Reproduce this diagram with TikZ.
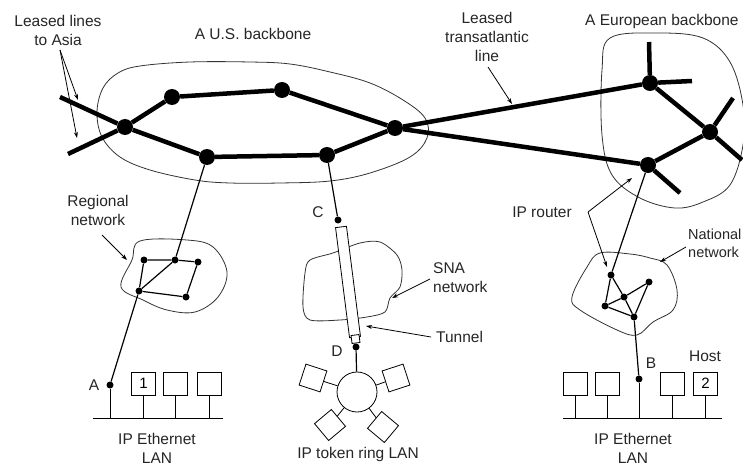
\documentclass[tikz,border=0pt]{standalone}
\usepackage{fontspec}
\setmainfont{Liberation Sans}
\usetikzlibrary{arrows.meta,calc}
\begin{document}
\begin{tikzpicture}[x=1pt,y=-1pt,
  bigdot/.style={circle,fill=black,inner sep=0pt,minimum size=16pt},
  smalldot/.style={circle,fill=black,inner sep=0pt,minimum size=7pt},
  trunk/.style={line width=4.5pt},
  link/.style={line width=1.2pt},
  blob/.style={line width=0.8pt,draw=black!80},
  lbl/.style={font=\fontsize{15.5}{19}\selectfont,text=black!85,inner sep=0pt,align=center},
  arr/.style={line width=0.8pt,-{Stealth[length=6pt,width=4pt]}},
  hostbox/.style={draw,line width=0.8pt,minimum width=24pt,minimum height=23pt,inner sep=0pt,font=\fontsize{15}{18}\selectfont},
  sqbox/.style={draw,line width=0.8pt,minimum width=22pt,minimum height=22pt,inner sep=0pt},
]
\fill[white] (0,0) rectangle (743,465);
\useasboundingbox (0,0) rectangle (743,465);

% ---------- outlines ----------
\draw[blob] plot[smooth cycle,tension=0.6] coordinates {(97,112) (103,88) (118,73) (140,66) (190,62) (250,62) (290,64) (330,72) (370,83) (403,100) (425,118) (427,138) (410,157) (370,173) (330,181) (280,183) (230,183) (195,180) (150,170) (120,157) (102,137)};
\draw[blob] plot[smooth cycle,tension=0.6] coordinates {(610,38) (657,33) (703,38) (730,62) (743,105) (743,145) (730,185) (703,202) (675,208) (640,198) (612,175) (602,135) (602,70)};
\draw[blob] plot[smooth cycle,tension=0.6] coordinates {(140,241) (187,240) (213,247) (227,272) (218,297) (195,312) (167,310) (143,300) (121,287) (132,260)};
\draw[blob] plot[smooth cycle,tension=0.5] coordinates {(333,253) (360,243) (380,242) (397,255) (402,270) (400,287) (390,298) (385,312) (367,317) (340,320) (310,320) (303,307) (305,273) (310,260)};
\draw[blob] plot[smooth cycle,tension=0.6] coordinates {(600,253) (630,254) (650,258) (667,265) (677,290) (673,310) (653,322) (637,335) (617,330) (580,310) (572,297) (587,267)};

% ---------- US backbone ----------
\node[bigdot] (L1) at (125,127) {};
\node[bigdot] (U1) at (172,97) {};
\node[bigdot] (U2) at (282,90) {};
\node[bigdot] (R) at (395,128) {};
\node[bigdot] (B1) at (207,157) {};
\node[bigdot] (B2) at (327,155) {};
\coordinate (asia1) at (60,97);
\coordinate (asia2) at (68,154);
\draw[trunk] (asia1) -- (L1) -- (B1) -- (B2) -- (R) -- (U2) -- (U1) -- (L1) -- (asia2);

% ---------- European backbone ----------
\node[bigdot] (E1) at (650,83) {};
\node[bigdot] (E2) at (710,132) {};
\node[bigdot] (E3) at (648,165) {};
\coordinate (e1u) at (649,42);
\coordinate (e1r) at (692,81);
\coordinate (e2u) at (733,98);
\coordinate (e2d) at (742,160);
\coordinate (e3d) at (680,193);
\draw[trunk] (e1u) -- (E1) -- (e1r);
\draw[trunk] (E1) -- (E2) -- (E3) -- (e3d);
\draw[trunk] (e2u) -- (E2) -- (e2d);
\draw[trunk] (R) -- (E1);
\draw[trunk] (R) -- (E3);

% ---------- regional network ----------
\node[smalldot] (r1) at (144,260) {};
\node[smalldot] (r2) at (175,260) {};
\node[smalldot] (r3) at (198,262) {};
\node[smalldot] (r4) at (139,291) {};
\node[smalldot] (r5) at (186,297) {};
\draw[link] (r1) -- (r2) -- (r3) -- (r5) -- (r4) -- (r1);
\draw[link] (r4) -- (r2);
\draw[link] (B1) -- (r2);
\node[smalldot] (A) at (110,385) {};
\draw[link] (r4) -- (A);

% ---------- left Ethernet LAN ----------
\coordinate (busL1) at (93,418);
\coordinate (busL2) at (223,418);
\draw[line width=0.8pt] (busL1) -- (busL2);
\node[hostbox] (h1) at (143.5,383.5) {1};
\node[hostbox] (h2) at (175,383.5) {};
\node[hostbox] (h3) at (209.5,383.5) {};
\draw[line width=0.8pt] (A) -- (A |- busL1);
\draw[line width=0.8pt] (h1) -- (h1 |- busL1);
\draw[line width=0.8pt] (h2) -- (h2 |- busL1);
\draw[line width=0.8pt] (h3) -- (h3 |- busL1);

% ---------- SNA tunnel ----------
\node[smalldot] (C) at (338,220) {};
\draw[link] (B2) -- (C);
\node[draw,line width=0.8pt,fill=white,minimum width=11pt,minimum height=111pt,inner sep=0pt,rotate=7.25] (tun) at (348,282) {};
\node[draw,line width=0.8pt,fill=white,minimum width=8pt,minimum height=8pt,inner sep=0pt,rotate=7.25] (tunend) at (355.5,339) {};
\node[smalldot] (D) at (356,347) {};

% ---------- token ring ----------
\node[circle,draw,line width=0.8pt,minimum size=40pt,inner sep=0pt] (ring) at (357,392) {};
\draw[link] (D) -- (ring);
\node[sqbox,rotate=-18] (sqTL) at (313,378) {};
\node[sqbox,rotate=18] (sqTR) at (396,378) {};
\node[sqbox,rotate=40] (sqBL) at (330,425) {};
\node[sqbox,rotate=-40] (sqBR) at (383,427) {};
\draw[line width=0.8pt] (ring) -- (sqTL);
\draw[line width=0.8pt] (ring) -- (sqTR);
\draw[line width=0.8pt] (ring) -- (sqBL);
\draw[line width=0.8pt] (ring) -- (sqBR);

% ---------- national network ----------
\node[smalldot] (n1) at (611,275) {};
\node[smalldot] (n2) at (649,282) {};
\node[smalldot] (n3) at (624,297) {};
\node[smalldot] (n4) at (605,306) {};
\node[smalldot] (n5) at (634,317) {};
\draw[link] (n1) -- (n4) -- (n5) -- (n2) -- (n3) -- (n4);
\draw[link] (n1) -- (n3) -- (n5);
\draw[link] (E3) -- (n1);
\node[smalldot] (B) at (639,379) {};
\draw[link] (n5) -- (B);

% ---------- right Ethernet LAN ----------
\coordinate (busR1) at (563,418);
\coordinate (busR2) at (722,418);
\draw[line width=0.8pt] (busR1) -- (busR2);
\node[hostbox] (h4) at (575.5,383.5) {};
\node[hostbox] (h5) at (607.5,383.5) {};
\node[hostbox] (h6) at (672.5,383.5) {};
\node[hostbox] (h7) at (705.5,383.5) {2};
\draw[line width=0.8pt] (B) -- (B |- busR1);
\draw[line width=0.8pt] (h4) -- (h4 |- busR1);
\draw[line width=0.8pt] (h5) -- (h5 |- busR1);
\draw[line width=0.8pt] (h6) -- (h6 |- busR1);
\draw[line width=0.8pt] (h7) -- (h7 |- busR1);

% ---------- labels ----------
\node[lbl] (tAsia) at (58,30) {Leased lines\\to Asia};
\coordinate (asiaSrc) at (60,50);
\coordinate (asiaTip1) at (78,100);
\coordinate (asiaTip2) at (77,138);
\draw[arr] (asiaSrc) -- (asiaTip1);
\draw[arr] (asiaSrc) -- (asiaTip2);

\node[lbl] (tUS) at (253,34) {A U.S. backbone};

\node[lbl] (tTrans) at (487,37) {Leased\\transatlantic\\line};
\coordinate (transSrc) at (488,67);
\coordinate (transTip) at (512,104);
\draw[arr] (transSrc) -- (transTip);

\node[lbl,anchor=west] (tEU) at (585,21) {A European backbone};

\node[lbl] (tReg) at (98,210) {Regional\\network};
\coordinate (regSrc) at (102,235);
\coordinate (regTip) at (127,260);
\draw[arr] (regSrc) -- (regTip);

\node[lbl] (tRouter) at (542,212) {IP router};
\coordinate (rtSrc) at (588,212);
\coordinate (rtTip1) at (632,178);
\coordinate (rtTip2) at (607,267);
\draw[arr] (rtSrc) -- (rtTip1);
\draw[arr] (rtSrc) -- (rtTip2);

\node[lbl,anchor=west,align=left,font=\fontsize{14.5}{18}\selectfont] (tNat) at (688,243) {National\\network};
\coordinate (natSrc) at (686,247);
\coordinate (natTip) at (660,262);
\draw[arr] (natSrc) -- (natTip);

\node[lbl,anchor=west,align=left] (tSNA) at (433,278) {SNA\\network};
\coordinate (snaSrc) at (430,279);
\coordinate (snaTip) at (392,298);
\draw[arr] (snaSrc) -- (snaTip);

\node[lbl,anchor=west] (tTun) at (436,337) {Tunnel};
\coordinate (tunSrc) at (431,337);
\coordinate (tunTip) at (366,326);
\draw[arr] (tunSrc) -- (tunTip);

\node[lbl] (tC) at (318,212) {C};
\node[lbl] (tD) at (337,351) {D};
\node[lbl] (tA) at (94,385) {A};
\node[lbl] (tB) at (651,363) {B};
\node[lbl] (tHost) at (705,356) {Host};

\node[lbl] (tLanL) at (157,448) {IP Ethernet\\LAN};
\node[lbl] (tLanR) at (633,448) {IP Ethernet\\LAN};
\node[lbl] (tRing) at (358,454) {IP token ring LAN};
\end{tikzpicture}
\end{document}
